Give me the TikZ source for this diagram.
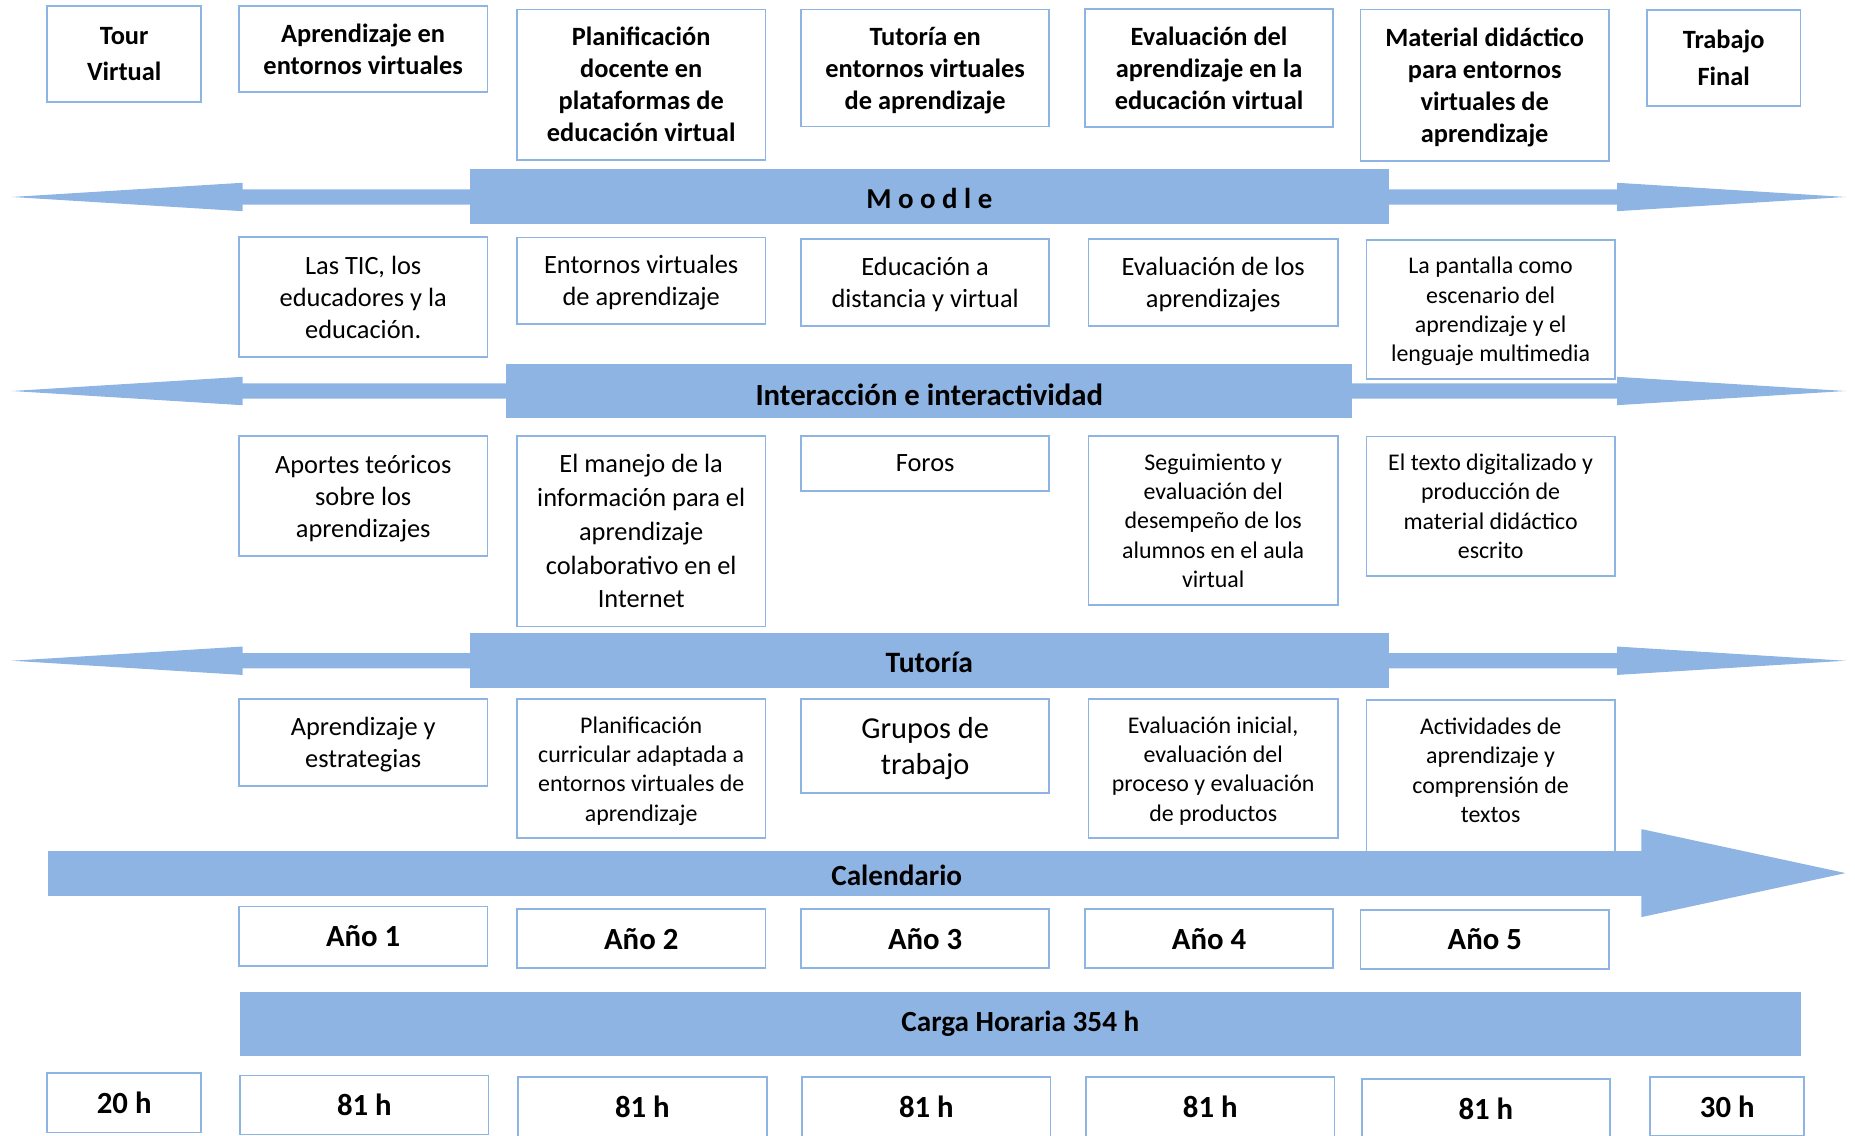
\documentclass[tikz,border=0pt]{standalone}
\usepackage{fontspec}
\setmainfont{Carlito}
\usetikzlibrary{calc}
\definecolor{barblue}{HTML}{8EB4E3}
\definecolor{edgeblue}{HTML}{8EB4E3}
% two-sided arrow around a bar node: #1 bar node, #2 left tip, #3 right tip
\newcommand\sidearrows[3]{%
  \fill[barblue] ($(#1.west)+(1,-6.5)$) -- ($(#2)+(195,-6.5)$) -- ($(#2)+(195,-12)$) -- (#2)
     -- ($(#2)+(195,12)$) -- ($(#2)+(195,6.5)$) -- ($(#1.west)+(1,6.5)$) -- cycle;
  \fill[barblue] ($(#1.east)+(-1,-6.5)$) -- ($(#3)+(-193,-6.5)$) -- ($(#3)+(-193,-12)$) -- (#3)
     -- ($(#3)+(-193,12)$) -- ($(#3)+(-193,6.5)$) -- ($(#1.east)+(-1,6.5)$) -- cycle;
}
\begin{document}
\begin{tikzpicture}[x=1pt,y=-1pt,
  box/.style={draw=edgeblue,line width=1.5pt,fill=white,align=center,inner sep=0pt,text depth=0pt},
  bf/.style={font=\bfseries\fontsize{22.3}{27}\selectfont},
  rg/.style={font=\fontsize{22.3}{27}\selectfont},
  sm/.style={font=\fontsize{20.2}{24.8}\selectfont},
  big/.style={font=\bfseries\fontsize{26}{31}\selectfont},
  bar/.style={fill=barblue,inner sep=0pt,align=center},
  wide/.style={minimum width=210pt},
  narrow/.style={minimum width=130pt},
]
\useasboundingbox (0,0) rectangle (1568,959.4);

% ---------- top row ----------
\node[box,narrow,minimum height=81pt,font=\bfseries\fontsize{22.3}{31}\selectfont] (t1) at (105,45.5) {Tour\\Virtual};
\node[box,wide,bf,minimum height=73pt] (t2) at (307,41.5) {Aprendizaje en\\entornos virtuales};
\node[box,wide,bf,minimum height=127pt] (t3) at (542,71.5) {Planificación\\docente en\\plataformas de\\educación virtual};
\node[box,wide,bf,minimum height=99pt] (t4) at (782,57.5) {Tutoría en\\entornos virtuales\\de aprendizaje};
\node[box,wide,bf,minimum height=100pt] (t5) at (1022,57.5) {Evaluación del\\aprendizaje en la\\educación virtual};
\node[box,wide,bf,minimum height=128pt] (t6) at (1255,72) {Material didáctico\\para entornos\\virtuales de\\aprendizaje};
\node[box,narrow,minimum height=81pt,font=\bfseries\fontsize{22.3}{31}\selectfont] (t7) at (1457,49) {Trabajo\\Final};

% ---------- Moodle ----------
\node[bar,minimum width=777pt,minimum height=46.5pt,text height=18.7pt,text depth=0pt,font=\bfseries\fontsize{24.4}{29}\selectfont] (moodle) at (785.5,166.5) {M o o d l e};
\coordinate (mL) at (10,166.5);
\coordinate (mR) at (1560,166.5);
\sidearrows{moodle}{mL}{mR}

% ---------- row 2 ----------
\node[box,wide,rg,minimum height=101pt] (r1) at (307,251) {Las TIC, los\\educadores y la\\educación.};
\node[box,wide,rg,minimum height=73pt] (r2) at (542,237.3) {Entornos virtuales\\de aprendizaje};
\node[box,wide,rg,minimum height=74pt] (r3) at (782,238.7) {Educación a\\distancia y virtual};
\node[box,minimum width=211pt,rg,minimum height=74pt] (r4) at (1025.5,238.7) {Evaluación de los\\aprendizajes};
\node[box,wide,sm,minimum height=117.5pt] (r5) at (1260,261.6) {La pantalla como\\escenario del\\aprendizaje y el\\lenguaje multimedia};

% ---------- Interacción ----------
\node[bar,minimum width=715pt,minimum height=46pt,text height=23.7pt,text depth=0pt,font=\bfseries\fontsize{26}{31}\selectfont] (inter) at (785.5,330.5) {Interacción e interactividad};
\coordinate (iL) at (10,330.5);
\coordinate (iR) at (1560,330.5);
\sidearrows{inter}{iL}{iR}

% ---------- row 3 ----------
\node[box,wide,rg,minimum height=101.5pt] (s1) at (307,419.3) {Aportes teóricos\\sobre los\\aprendizajes};
\node[box,wide,minimum height=161pt,font=\fontsize{22.3}{28.5}\selectfont] (s2) at (542,449) {El manejo de la\\información para el\\aprendizaje\\colaborativo en el\\Internet};
\node[box,wide,rg,minimum height=46pt] (s3) at (782,391.7) {Foros};
\node[box,minimum width=211pt,sm,minimum height=143pt] (s4) at (1025.5,440) {Seguimiento y\\evaluación del\\desempeño de los\\alumnos en el aula\\virtual};
\node[box,wide,sm,minimum height=118pt] (s5) at (1260,428) {El texto digitalizado y\\producción de\\material didáctico\\escrito};

% ---------- Tutoría ----------
\node[bar,minimum width=777pt,minimum height=46.5pt,text height=20.1pt,text depth=0pt,font=\bfseries\fontsize{25}{30}\selectfont] (tut) at (785.5,558.5) {Tutoría};
\coordinate (uL) at (10,558.5);
\coordinate (uR) at (1560,558.5);
\sidearrows{tut}{uL}{uR}

% ---------- row 4 ----------
\node[box,wide,rg,minimum height=73.4pt] (u1) at (307,627.7) {Aprendizaje y\\estrategias};
\node[box,wide,sm,minimum height=117.6pt] (u2) at (542,649.8) {Planificación\\curricular adaptada a\\entornos virtuales de\\aprendizaje};
\node[box,wide,minimum height=79pt,font=\fontsize{25.7}{31}\selectfont] (u3) at (782,630.5) {Grupos de\\trabajo};
\node[box,minimum width=211pt,sm,minimum height=117.6pt] (u4) at (1025.5,649.8) {Evaluación inicial,\\evaluación del\\proceso y evaluación\\de productos};
\node[box,wide,minimum height=138pt] (u5) at (1260,661) {};
\node[sm,align=center,inner sep=0pt,text depth=0pt] (u5t) at ([yshift=10pt]u5.center) {Actividades de\\aprendizaje y\\comprensión de\\textos};

% ---------- Calendario ----------
\node[bar,minimum width=1348pt,minimum height=38pt,anchor=west] (cal) at (40,738) {};
\coordinate (calTip) at (1560,738);
\fill[barblue] ($(cal.east)+(-1,-37)$) -- ($(cal.east)+(0,-37)$) -- (calTip) -- ($(cal.east)+(0,37)$) -- ($(cal.east)+(-1,37)$) -- cycle;
\node[font=\bfseries\fontsize{24.7}{30}\selectfont,inner sep=0pt] (calt) at (758,740) {Calendario};

% ---------- years ----------
\node[box,wide,big,minimum height=50pt] (y1) at (307,791.3) {Año 1};
\node[box,wide,big,minimum height=50pt] (y2) at (542,793.3) {Año 2};
\node[box,wide,big,minimum height=50pt] (y3) at (782,793.3) {Año 3};
\node[box,wide,big,minimum height=50pt] (y4) at (1022,793.3) {Año 4};
\node[box,wide,big,minimum height=50pt] (y5) at (1255,794) {Año 5};

% ---------- Carga horaria ----------
\node[bar,minimum width=1319pt,minimum height=54pt,font=\bfseries\fontsize{24.7}{30}\selectfont] (carga) at (862.5,865.3) {Carga Horaria 354 h};

% ---------- hours ----------
\node[box,narrow,big,minimum height=50pt] (h1) at (105,932.2) {20 h};
\node[box,wide,big,minimum height=50pt] (h2) at (308,934) {81 h};
\node[box,wide,big,minimum height=50pt] (h3) at (543,935.6) {81 h};
\node[box,wide,big,minimum height=50pt] (h4) at (783,935.6) {81 h};
\node[box,wide,big,minimum height=50pt] (h5) at (1023,935.6) {81 h};
\node[box,wide,big,minimum height=50pt] (h6) at (1256,936.8) {81 h};
\node[box,narrow,big,minimum height=50pt] (h7) at (1460,935.4) {30 h};
\end{tikzpicture}
\end{document}
